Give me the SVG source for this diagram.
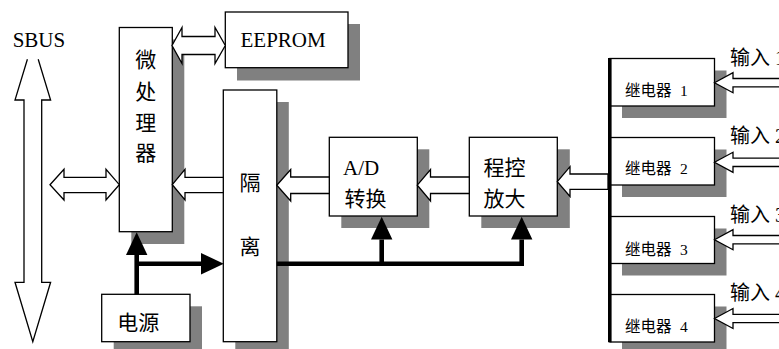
<svg xmlns="http://www.w3.org/2000/svg" width="779" height="349" viewBox="0 0 779 349">
<style>
.sh{fill:#808080;stroke:none}
.bx{fill:#fff;stroke:#000;stroke-width:1.3}
.ha{fill:#fff;stroke:#000;stroke-width:1.3;stroke-linejoin:miter}
.pw{fill:none;stroke:#000;stroke-width:4.6;stroke-linejoin:miter}
.t{font-family:"Liberation Serif","Noto Sans CJK SC",serif;font-size:21px;fill:#000}
.c{font-family:"Noto Sans CJK SC","Liberation Sans",sans-serif;font-size:21px;fill:#000}
.r{font-family:"Liberation Serif","Noto Sans CJK SC",serif;font-size:15.5px;fill:#000}
.in{font-family:"Liberation Serif","Noto Sans CJK SC",serif;font-size:20px;fill:#000}
</style>
<defs>
<marker id="ah" markerUnits="userSpaceOnUse" markerWidth="24" markerHeight="24" viewBox="0 -12 24 24" refX="0" refY="0" orient="auto" overflow="visible">
<path d="M0,-10.7 L22.8,0 L0,10.7 Z" fill="#000"/>
</marker>
</defs>
<rect width="779" height="349" fill="#fff"/>

<g id="micro">
<rect class="sh" x="131.3" y="39.5" width="53" height="204.5"/>
<rect class="bx" x="119.3" y="27.5" width="53" height="204.2"/>
<text class="c" text-anchor="middle" x="145.8" y="67">微</text>
<text class="c" text-anchor="middle" x="145.8" y="98.5">处</text>
<text class="c" text-anchor="middle" x="145.8" y="130">理</text>
<text class="c" text-anchor="middle" x="145.8" y="159.5">器</text>
</g>

<g id="eeprom">
<rect class="sh" x="237" y="24" width="123" height="56.5"/>
<rect class="bx" x="225.3" y="12" width="122.7" height="55.7"/>
<text class="t" x="240.5" y="46.7">EEPROM</text>
</g>

<g id="isolation">
<rect class="sh" x="235.3" y="102" width="53.5" height="252"/>
<rect class="bx" x="223.3" y="90" width="53.5" height="251.7"/>
<text class="c" text-anchor="middle" x="250" y="190.2">隔</text>
<text class="c" text-anchor="middle" x="250" y="253.5">离</text>
</g>

<g id="power">
<rect class="sh" x="113.7" y="306.3" width="88.3" height="47.4"/>
<rect class="bx" x="101.7" y="294.3" width="88.3" height="47.4"/>
<text class="c" x="117.3" y="330.2">电源</text>
</g>

<g id="adc">
<rect class="sh" x="341.3" y="149.3" width="88" height="78.7"/>
<rect class="bx" x="329.3" y="137.3" width="88" height="78.7"/>
<text class="t" x="343" y="175">A/D</text>
<text class="c" x="344.5" y="205.8">转换</text>
</g>

<g id="pga">
<rect class="sh" x="481.3" y="149.3" width="88.5" height="78.7"/>
<rect class="bx" x="469.3" y="137.3" width="88" height="78.7"/>
<text class="c" x="483.5" y="174.5">程控</text>
<text class="c" x="483.5" y="205.8">放大</text>
</g>

<g id="relay1">
<rect class="sh" x="622" y="70.5" width="104.5" height="47.5"/>
<rect class="bx" x="610" y="58.5" width="104.5" height="47.5"/>
<text class="r" x="625" y="95.5">继电器<tspan x="680">1</tspan></text>
</g>
<g id="relay2">
<rect class="sh" x="622" y="149.5" width="104.5" height="47.5"/>
<rect class="bx" x="610" y="137.5" width="104.5" height="47.5"/>
<text class="r" x="625" y="173.5">继电器<tspan x="680">2</tspan></text>
</g>
<g id="relay3">
<rect class="sh" x="622" y="228.5" width="104.5" height="47"/>
<rect class="bx" x="610" y="216.5" width="104.5" height="47"/>
<text class="r" x="625" y="255.3">继电器<tspan x="680">3</tspan></text>
</g>
<g id="relay4">
<rect class="sh" x="622" y="306.5" width="104.5" height="47.5"/>
<rect class="bx" x="610" y="294.5" width="104.5" height="47.5"/>
<text class="r" x="625" y="332">继电器<tspan x="680">4</tspan></text>
</g>

<g id="labels">
<text class="t" x="12.7" y="46.5">SBUS</text>
<text class="in" x="730" y="65">输入<tspan x="775">1</tspan></text>
<text class="in" x="730" y="142.5">输入<tspan x="775">2</tspan></text>
<text class="in" x="730" y="222">输入<tspan x="775">3</tspan></text>
<text class="in" x="730" y="299.5">输入<tspan x="775">4</tspan></text>
</g>

<g id="connectors">
<!-- SBUS bus -->
<path class="ha" d="M27.4,59.3 L15,100 L24,100 L24,282.3 L15,282.3 L32.8,341.7 L50.6,282.3 L41.7,282.3 L41.7,100 L50.6,100 L38.2,59.3"/>
<!-- SBUS <-> micro -->
<polygon class="ha" points="50,184.7 64,169.3 64,177.3 106,177.3 106,169.3 119.3,184.7 106,200 106,192.7 64,192.7 64,200"/>
<!-- micro <-> EEPROM -->
<polygon class="ha" points="172,45.5 182,27.5 182,36.5 215,36.5 215,27.5 225.3,45.5 215,63.5 215,54.5 182,54.5 182,63.5"/>
<!-- isolation -> micro -->
<polygon class="ha" points="172.3,184.7 185,169.3 185,177.3 223.3,177.3 223.3,192.7 185,192.7 185,200"/>
<!-- A/D -> isolation -->
<polygon class="ha" points="276.8,185.2 290.7,169.5 290.7,177 329.3,177 329.3,193.5 290.7,193.5 290.7,201"/>
<!-- PGA -> A/D -->
<polygon class="ha" points="417.3,185.2 430.5,169.5 430.5,177 469.3,177 469.3,193.5 430.5,193.5 430.5,201"/>
<!-- relays -> PGA -->
<polygon class="ha" points="557.3,181.7 570,166.7 570,174 608,174 608,189.3 570,189.3 570,196.5"/>
<!-- inputs -> relays -->
<polygon class="ha" points="714.5,82.7 733,72.7 733,78.5 790,78.5 790,86.9 733,86.9 733,92.7"/>
<polygon class="ha" points="714.5,162.3 733,152.3 733,158.1 790,158.1 790,166.5 733,166.5 733,172.3"/>
<polygon class="ha" points="714.5,239.7 733,229.7 733,235.5 790,235.5 790,243.9 733,243.9 733,249.7"/>
<polygon class="ha" points="714.5,318.5 733,308.5 733,314.3 790,314.3 790,322.7 733,322.7 733,328.5"/>
<!-- relay bus -->
<line x1="609.8" y1="58" x2="609.8" y2="342.3" stroke="#000" stroke-width="3.6"/>
<!-- power lines -->
<path class="pw" d="M136.7,294.3 L136.7,255" marker-end="url(#ah)"/>
<path class="pw" d="M136.7,263.7 L201,263.7" marker-end="url(#ah)"/>
<path class="pw" d="M276.8,263.7 L521.7,263.7 L521.7,239.5" marker-end="url(#ah)"/>
<path class="pw" d="M381.7,263.7 L381.7,239.5" marker-end="url(#ah)"/>
</g>
</svg>
